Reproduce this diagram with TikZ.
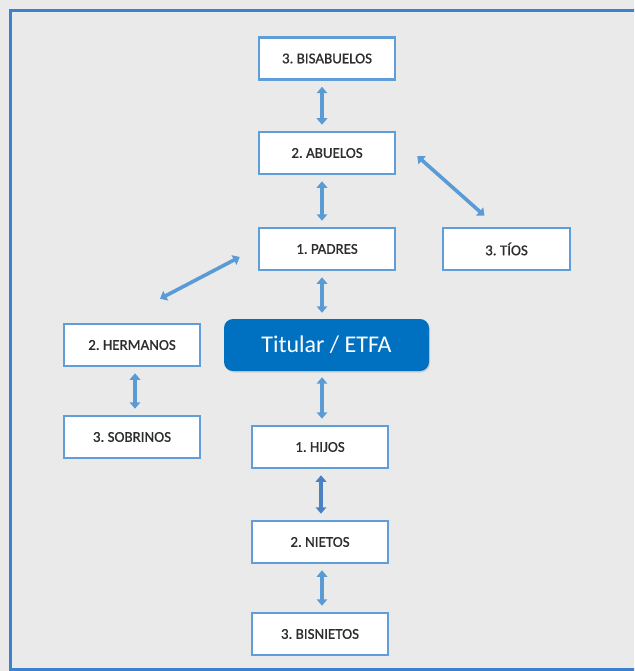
\documentclass[tikz,border=0pt]{standalone}
\usepackage{fontspec}
\setmainfont{Carlito}
\newfontfamily\kinfam[FakeBold=0.9]{Carlito}
\usepackage{tikz}
\usetikzlibrary{arrows.meta,shadows}
\definecolor{bgGray}{RGB}{234,234,234}
\definecolor{frameBlue}{RGB}{58,130,208}
\definecolor{boxBlue}{RGB}{96,158,218}
\definecolor{arrBlue}{RGB}{91,155,213}
\definecolor{arrDark}{RGB}{74,128,196}
\definecolor{titBlue}{RGB}{0,112,192}
\definecolor{txtGray}{RGB}{45,45,45}
\newcommand{\kinfont}{\kinfam\fontsize{15}{17}\selectfont\spaceskip 2.2pt\relax}

\begin{document}
\begin{tikzpicture}[x=1pt,y=-1pt,
	kin/.style={draw=boxBlue, line width=2.5pt, fill=white, minimum width=136pt, minimum height=42pt,
		inner sep=0pt, text=txtGray, font=\kinfont},
	link/.style={arrBlue, line width=3.6pt, {Triangle[width=10.5pt,length=6.5pt]}-{Triangle[width=10.5pt,length=6.5pt]},
		shorten <=6pt, shorten >=6pt}]
	\useasboundingbox (0,0) rectangle (634,671);
	\clip (0,0) rectangle (634,671);
	\fill [bgGray] (0,0) rectangle (634,671);
	\draw [frameBlue, line width=3pt] (10,11) rectangle (660,669);
	% ascendientes
	\node[kin] (bis)  at (327,58.5) {3. BISABUELOS};
	\node[kin] (abu)  at (327,153)  {2. ABUELOS};
	\node[kin] (pad)  at (327,249)  {1. PADRES};
	\node[kin, minimum width=127pt] (tios) at (506.5,249) {3. TÍOS};
	% colaterales
	\node[kin] (herm) at (132,345) {2. HERMANOS};
	\node[kin] (sob)  at (132,437) {3. SOBRINOS};
	% titular
	\node[fill=titBlue, rounded corners=9pt, minimum width=205pt, minimum height=52pt, text=white,
		font=\fontsize{24}{28}\selectfont, drop shadow={opacity=0.25, shadow xshift=1pt, shadow yshift=-1.5pt}]
		(tit) at (326.5,345) {Titular / ETFA};
	% descendientes
	\node[kin] (hij)  at (320,447) {1. HIJOS};
	\node[kin] (nie)  at (320,542) {2. NIETOS};
	\node[kin] (bisn) at (320,634) {3. BISNIETOS};
	\draw [link] ([xshift=-5pt]bis.south) -- ([xshift=-5pt]abu.north);
	\draw [link] ([xshift=-5pt]abu.south) -- ([xshift=-5pt]pad.north);
	\draw [link] ([xshift=-5pt]pad.south) -- ([xshift=-4.5pt]tit.north);
	\draw [link] ([xshift=-4.5pt]tit.south) -- ([xshift=2pt]hij.north);
	\draw [link, arrDark] ([xshift=1pt]hij.south) -- ([xshift=1pt]nie.north);
	\draw [link] ([xshift=2pt]nie.south) -- ([xshift=2pt]bisn.north);
	\draw [link] ([xshift=3pt]herm.south) -- ([xshift=3pt]sob.north);
	\draw [link, shorten <=0pt, shorten >=0pt] ([shift={(21,3)}]abu.east) -- ([shift={(-22,-11)}]tios.north);
	\draw [link, shorten <=0pt, shorten >=0pt] ([shift={(-18,8)}]pad.west) -- ([shift={(28,-24)}]herm.north);
\end{tikzpicture}
\end{document}
